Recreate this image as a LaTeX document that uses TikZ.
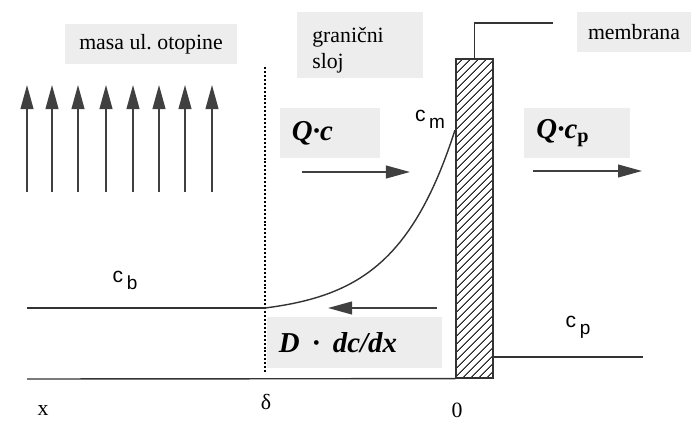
\documentclass[tikz,border=0pt]{standalone}
\usepackage{fontspec}
\setmainfont{Liberation Serif}
\newfontfamily\labelsans{Liberation Sans}
\usetikzlibrary{positioning,arrows.meta,patterns.meta}
\frenchspacing

\newcommand{\conc}[2]{{\labelsans\fontsize{15}{15}\selectfont #1\,\raisebox{-5pt}{\fontsize{13.5}{13.5}\selectfont #2}}}

\begin{document}
\begin{tikzpicture}[
x=0.025cm, y=-0.025cm,
box/.style={fill=black!7, inner sep=0pt, font=\fontsize{15.5}{19}\selectfont},
flux/.style={fill=black!7, inner ysep=0pt, inner xsep=0.3cm, align=left, font=\fontsize{20.5}{22}\selectfont\bfseries\itshape},
arrow/.style={-{Triangle[length=6mm, width=3.2mm]}, line width=1.1pt, black!75},
line/.style={line width=1pt, black!80},
axislabel/.style={inner sep=0pt, font=\fontsize{15.5}{17}\selectfont}
]
\useasboundingbox (0,0) rectangle (691,427);

% label boxes
\node[box, minimum width=4.3cm, minimum height=1cm] (bulk) at (151,44) {masa ul. otopine};
\node[box, minimum width=3.15cm, minimum height=1.65cm] (layer) at (360,45) {};
\node[inner sep=0pt, anchor=north west, align=left, font=\fontsize{15.5}{18.5}\selectfont] (layertext) at (312,27) {granični\\sloj};
\node[box, minimum width=2.85cm, minimum height=1cm] (memlabel) at (634,32) {membrana};

% membrane
\node[draw, line width=1pt, black!80, pattern={Lines[angle=45, distance=4pt, line width=0.8pt]}, pattern color=black!85,
  minimum width=0.925cm, minimum height=7.975cm, inner sep=0pt] (membrane) at (474.5,218.5) {};
\coordinate (tag) at (553,23);
\draw[line] (membrane.north) |- (tag);

% bulk flow
\foreach \i/\x in {1/27,2/52,3/78,4/106,5/133,6/159,7/185,8/212} {
  \coordinate (up\i-s) at (\x,192);
  \coordinate (up\i-e) at (\x,85);
  \draw[arrow] (up\i-s) -- (up\i-e);
}

% boundary layer edge
\coordinate (d-top) at (265,67);
\coordinate (d-bot) at (265,373);
\draw[line width=1.5pt, black, dash pattern=on 1.4pt off 1.4pt] (d-top) -- (d-bot);

% concentration profile
\coordinate (cb-l) at (27,308);
\coordinate (cb-r) at (265,308);
\draw[line] (cb-l) -- (cb-r);
\draw[line] plot[domain=0:1, samples=50] ({265+190*\x},{308-178*(exp(3.2*\x)-1)/(exp(3.2)-1)});
\coordinate (cp-e) at (643,357);
\draw[line] (cp-e -| membrane.east) -- (cp-e);
\coordinate (axis-l) at (27,379);
\draw[line] (axis-l) -- (membrane.south west);

% fluxes
\node[flux, text width=1.9cm, minimum height=1.25cm] (qc) at (330,133) {Q·c};
\node[flux, text width=2.025cm, minimum height=1.25cm] (qcp) at (577,133) {Q·c\textsubscript{\upshape p}};
\node[flux, text width=3.775cm, minimum height=1.275cm] (diff) at (354.5,342.5) {D\hspace{0.45em}·\hspace{0.45em}dc/dx};
\coordinate (qc-s) at (302,172);
\coordinate (qc-e) at (410,172);
\draw[arrow] (qc-s) -- (qc-e);
\coordinate (qcp-s) at (533,171);
\coordinate (qcp-e) at (642,171);
\draw[arrow] (qcp-s) -- (qcp-e);
\coordinate (diff-s) at (437,308);
\coordinate (diff-e) at (328,308);
\draw[arrow] (diff-s) -- (diff-e);

% concentrations
\node[inner sep=0pt] (cm) at (430,119) {\conc{c}{m}};
\node[inner sep=0pt] (cb) at (125,280) {\conc{c}{b}};
\node[inner sep=0pt] (cp) at (578,327) {\conc{c}{p}};

% axis marks
\node[axislabel] (xlab) at (43,410) {x};
\node[axislabel] (delta) at (266,402) {δ};
\node[axislabel] (zero) at (457,410) {0};
\end{tikzpicture}
\end{document}
